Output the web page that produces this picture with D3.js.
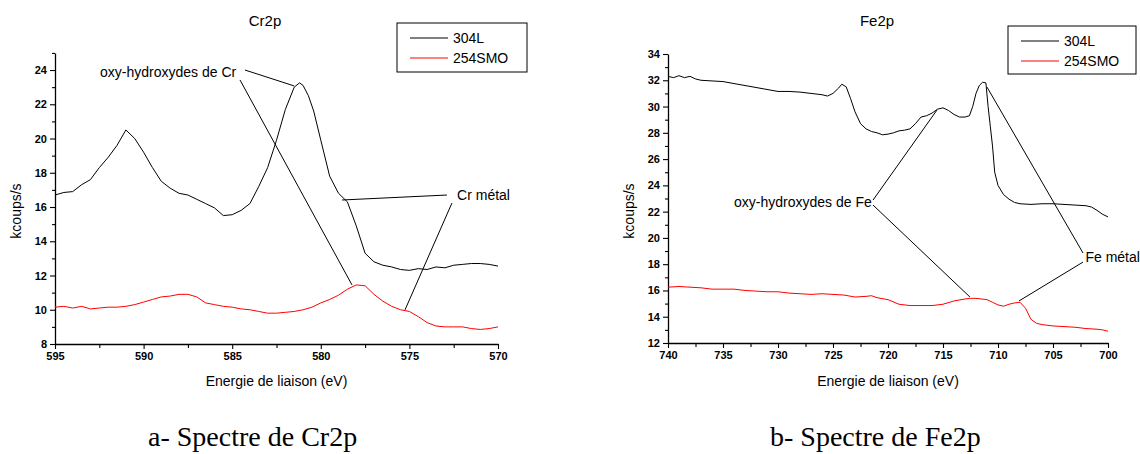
<!DOCTYPE html>
<html><head><meta charset="utf-8">
<script src="https://cdn.jsdelivr.net/npm/d3@7"></script>
<style>
html,body{margin:0;padding:0;background:#fff;}
svg{display:block;}
text{font-family:"Liberation Sans",Arial,sans-serif;fill:#000;}
.tick text{font-weight:bold;font-size:11px;}
</style></head>
<body>
<script>
// ---------- DATA ----------
const seriesNames = ["304L", "254SMO"];
const crEnergy304 = [595,594.5,594,593.5,593,592.5,592,591.5,591,590.5,590,589.5,589,588.5,588,587.5,587,586.5,586,585.5,585,584.5,584,583.5,583,582.5,582,581.5,581.2,581,580.7,580.4,580,579.5,579,578.5,578,577.5,577,576.5,576,575.5,575,574.5,574,573.5,573,572.5,572,571.5,571,570.5,570];
const cr304 = [16.7,16.85,16.9,17.3,17.6,18.3,18.9,19.6,20.5,20.0,19.2,18.3,17.5,17.1,16.8,16.7,16.45,16.2,15.95,15.5,15.55,15.8,16.2,17.2,18.3,19.9,21.7,23.0,23.25,23.1,22.5,21.6,19.9,17.8,16.8,16.3,14.9,13.3,12.8,12.6,12.5,12.35,12.3,12.4,12.35,12.5,12.45,12.6,12.65,12.7,12.7,12.65,12.55];
const crEnergy254 = [595,594.5,594,593.5,593,592.5,592,591.5,591,590.5,590,589.5,589,588.5,588,587.5,587,586.5,586,585.5,585,584.5,584,583.5,583,582.5,582,581.5,581,580.5,580,579.5,579,578.5,578,577.5,577,576.5,576,575.5,575,574.5,574,573.5,573,572.5,572,571.5,571,570.5,570];
const cr254 = [10.15,10.2,10.1,10.2,10.05,10.1,10.15,10.15,10.2,10.3,10.45,10.6,10.75,10.8,10.9,10.9,10.75,10.4,10.3,10.2,10.15,10.05,10.0,9.9,9.8,9.8,9.85,9.9,10.0,10.15,10.4,10.6,10.85,11.2,11.45,11.4,10.9,10.5,10.2,10.0,9.9,9.6,9.25,9.05,9.0,9.0,9.0,8.9,8.85,8.9,9.0];

const feEnergy304 = [740,739.5,739,738.5,738,737.5,737,736,735,734,733,732,731,730,729,728,727,726,725.5,725,724.5,724.2,723.8,723.4,723,722.5,722,721.5,721,720.5,720,719.5,719,718.5,718,717.5,717,716.5,716,715.5,715,714.5,714,713.5,713,712.6,712.3,712,711.7,711.4,711.1,710.9,710.7,710.5,710.3,710,709.5,709,708.5,708,707,706,705,704,703,702,701.5,701,700.5,700];
const fe304 = [32.3,32.2,32.35,32.2,32.3,32.1,32.0,31.95,31.9,31.75,31.6,31.45,31.3,31.15,31.15,31.1,31.0,30.9,30.8,31.0,31.4,31.7,31.5,30.6,29.6,28.7,28.3,28.1,28.0,27.85,27.9,28.0,28.15,28.2,28.3,28.7,29.2,29.3,29.5,29.8,29.9,29.7,29.4,29.2,29.2,29.3,30.0,31.0,31.6,31.85,31.8,30.0,28.5,27.0,25.0,24.0,23.3,22.95,22.7,22.6,22.55,22.6,22.6,22.55,22.5,22.45,22.35,22.1,21.8,21.6];
const feEnergy254 = [740,739,738,737,736,735,734,733,732,731,730,729,728,727,726,725,724,723,722,721.5,721,720,719,718,717,716,715,714,713,712.5,712,711,710.5,710,709.5,709,708.5,708,707.5,707,706.5,706,705,704,703,702,701,700.5,700];
const fe254 = [16.25,16.3,16.25,16.2,16.1,16.1,16.1,16.0,15.95,15.9,15.9,15.8,15.75,15.7,15.75,15.7,15.65,15.5,15.55,15.6,15.45,15.3,14.95,14.85,14.85,14.85,14.95,15.2,15.35,15.4,15.4,15.3,15.1,14.9,14.8,14.95,15.05,15.1,14.65,13.8,13.5,13.4,13.3,13.25,13.2,13.1,13.05,13.0,12.9];

const crTicksX = [595,590,585,580,575,570];
const crTicksY = [8,10,12,14,16,18,20,22,24];
const feTicksX = [740,735,730,725,720,715,710,705,700];
const feTicksY = [12,14,16,18,20,22,24,26,28,30,32,34];

// annotations in data coordinates: [x1,y1,x2,y2]
const crLabels = [{t:"oxy-hydroxydes de Cr", x:592.46, y:23.88, a:"start"},{t:"Cr métal", x:572.31, y:16.70, a:"start"}];
const crLeaders = [[584.28,24.0,581.5,23.07],[584.56,23.42,578.24,11.45],[572.88,16.70,578.80,16.41],[572.60,16.23,575.25,9.99]];
const feLabels = [{t:"oxy-hydroxydes de Fe", x:734.0, y:22.73, a:"start"},{t:"Fe métal", x:697.1, y:18.54, a:"end"}];
const feLeaders = [[721.36,22.88,715.55,29.73],[721.36,22.50,712.55,15.50],[702.27,18.85,711.0,31.48],[702.27,18.16,708.09,15.20]];

// ---------- DRAW ----------
const svg = d3.select("body").append("svg").attr("width",1140).attr("height",454);
svg.append("rect").attr("width",1140).attr("height",454).attr("fill","#fff");

function panel(cfg){
  const g = svg.append("g");
  const x = d3.scaleLinear().domain(cfg.xDom).range(cfg.xRange);
  const y = d3.scaleLinear().domain(cfg.yDom).range(cfg.yRange);
  const x0 = cfg.xRange[0], y0 = cfg.yRange[0];

  // minor ticks
  g.append("g").attr("transform",`translate(0,${y0})`)
    .call(d3.axisBottom(x).tickValues(cfg.xMinor).tickSize(4).tickFormat(""))
    .call(a=>a.select(".domain").remove());
  g.append("g").attr("transform",`translate(${x0},0)`)
    .call(d3.axisLeft(y).tickValues(cfg.yMinor).tickSize(3).tickFormat(""))
    .call(a=>a.select(".domain").remove());
  // major
  g.append("g").attr("transform",`translate(0,${y0})`)
    .call(d3.axisBottom(x).tickValues(cfg.xTicks).tickSize(5).tickSizeOuter(0).tickPadding(3).tickFormat(d3.format("d")));
  g.append("g").attr("transform",`translate(${x0},0)`)
    .call(d3.axisLeft(y).tickValues(cfg.yTicks).tickSize(5).tickSizeOuter(0).tickPadding(3).tickFormat(d3.format("d")));
  g.selectAll(".domain").attr("stroke","#000").attr("stroke-width",1.3);
  g.selectAll(".tick line").attr("stroke","#000").attr("stroke-width",1.1);
  g.selectAll(".tick text").attr("font-family","Liberation Sans, Arial").style("font-size","11px").style("font-weight","bold");

  const line = d3.line().x(d=>x(d[0])).y(d=>y(d[1]));
  g.append("path").datum(d3.zip(cfg.e2,cfg.v2)).attr("d",line).attr("fill","none").attr("stroke","#ff0000").attr("stroke-width",1);
  g.append("path").datum(d3.zip(cfg.e1,cfg.v1)).attr("d",line).attr("fill","none").attr("stroke","#000").attr("stroke-width",1);

  // leaders
  g.selectAll(".lead").data(cfg.leaders).enter().append("line")
    .attr("x1",d=>x(d[0])).attr("y1",d=>y(d[1])).attr("x2",d=>x(d[2])).attr("y2",d=>y(d[3]))
    .attr("stroke","#000").attr("stroke-width",1);
  g.selectAll(".lab").data(cfg.labels).enter().append("text")
    .attr("x",d=>x(d.x)).attr("y",d=>y(d.y)).attr("dy","0.35em").attr("text-anchor",d=>d.a)
    .style("font-size","14px").text(d=>d.t);

  // titles
  g.append("text").attr("x",cfg.titleX).attr("y",26).attr("text-anchor","middle").style("font-size","15px").text(cfg.title);
  g.append("text").attr("x",(cfg.xRange[0]+cfg.xRange[1])/2).attr("y",386).attr("text-anchor","middle").style("font-size","14px").text("Energie de liaison (eV)");
  g.append("text").attr("transform",`translate(${cfg.yLabX},211) rotate(-90)`).attr("text-anchor","middle").style("font-size","14px").text("kcoups/s");

  // legend
  const L = cfg.legend;
  g.append("rect").attr("x",L.x).attr("y",L.y).attr("width",L.w).attr("height",L.h).attr("fill","#fff").attr("stroke","#000").attr("stroke-width",1);
  const cols = ["#000","#ff0000"];
  seriesNames.forEach((n,i)=>{
    const yy = L.y + 15 + i*20;
    g.append("line").attr("x1",L.x+13).attr("x2",L.x+51).attr("y1",yy).attr("y2",yy).attr("stroke",cols[i]).attr("stroke-width",1);
    g.append("text").attr("x",L.x+56).attr("y",yy).attr("dy","0.35em").style("font-size","14px").text(n);
  });

  // caption
  svg.append("text").attr("x",cfg.capX).attr("y",446)
    .style("font-family","'Liberation Serif', 'Times New Roman', serif")
    .style("font-size","28px").text(cfg.caption);
}

panel({
  xDom:[595,570], xRange:[55,498], yDom:[8,25], yRange:[344,52.9],
  xTicks:crTicksX, yTicks:crTicksY,
  xMinor:[592.5,587.5,582.5,577.5,572.5], yMinor:[9,11,13,15,17,19,21,23,25],
  e1:crEnergy304, v1:cr304, e2:crEnergy254, v2:cr254,
  leaders:crLeaders, labels:crLabels,
  title:"Cr2p", titleX:265, yLabX:21,
  legend:{x:397,y:23,w:130,h:49},
  caption:"a- Spectre de Cr2p", capX:148
});
panel({
  xDom:[740,700], xRange:[668,1108], yDom:[12,34], yRange:[343,54],
  xTicks:feTicksX, yTicks:feTicksY,
  xMinor:[737.5,732.5,727.5,722.5,717.5,712.5,707.5,702.5], yMinor:[13,15,17,19,21,23,25,27,29,31,33],
  e1:feEnergy304, v1:fe304, e2:feEnergy254, v2:fe254,
  leaders:feLeaders, labels:feLabels,
  title:"Fe2p", titleX:877, yLabX:634,
  legend:{x:1008,y:26,w:128,h:48},
  caption:"b- Spectre de Fe2p", capX:770
});
</script>
</body></html>
